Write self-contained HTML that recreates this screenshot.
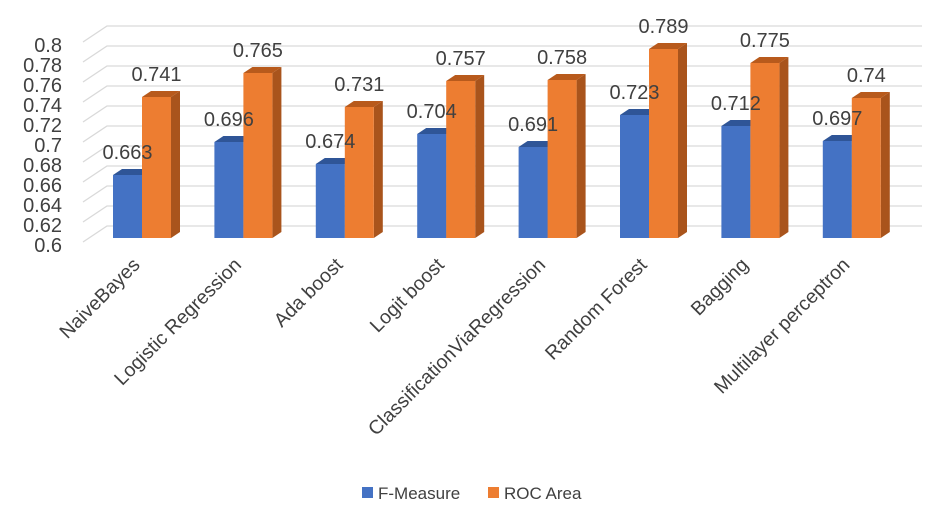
<!DOCTYPE html>
<html><head><meta charset="utf-8"><style>
body{margin:0;background:#fff;}
svg text{font-family:"Liberation Sans",sans-serif;fill:#404040;}
</style></head><body>
<svg id="chart" width="941" height="510" viewBox="0 0 941 510" xmlns="http://www.w3.org/2000/svg">
<g id="grid"></g>
<g id="yticks"></g>
<g id="bars"></g>
<g id="vlabels"></g>
<g id="xlabels"></g>
<g>
<rect x="362" y="487" width="11" height="11" fill="#4472C4"/>
<text x="378" y="499" font-size="17">F-Measure</text>
<rect x="488" y="487" width="11" height="11" fill="#ED7D31"/>
<text x="504" y="499" font-size="17">ROC Area</text>
</g>
</svg>
<script>
const categories=["NaiveBayes","Logistic Regression","Ada boost","Logit boost","ClassificationViaRegression","Random Forest","Bagging","Multilayer perceptron"];
const fMeasure=[0.663,0.696,0.674,0.704,0.691,0.723,0.712,0.697];
const rocArea=[0.741,0.765,0.731,0.757,0.758,0.789,0.775,0.74];
const yTicks=[0.6,0.62,0.64,0.66,0.68,0.7,0.72,0.74,0.76,0.78,0.8];
const yTickLabels=["0.6","0.62","0.64","0.66","0.68","0.7","0.72","0.74","0.76","0.78","0.8"];

const NS="http://www.w3.org/2000/svg";
const yMin=0.6, baseY=238, pxPerUnit=1000;
const y=v=>baseY-(v-yMin)*pxPerUnit;
const x0=113, step=101.4, bw=29, dx=9, dy=-6;
const gx=v=>x0+v*step;
function mk(tag,attrs,parent){const e=document.createElementNS(NS,tag);for(const k in attrs)e.setAttribute(k,attrs[k]);parent.appendChild(e);return e;}
const grid=document.getElementById('grid'),yt=document.getElementById('yticks'),bars=document.getElementById('bars'),vl=document.getElementById('vlabels'),xl=document.getElementById('xlabels');
yTicks.forEach((t,i)=>{
  const yy=y(t);
  const l=mk('polyline',{points:`83,${yy+4} 107,${yy-12} 922,${yy-12}`,fill:'none',stroke:'#d9d9d9','stroke-width':1.3},grid);
  
  
  const tx=mk('text',{x:62,y:yy+14,'text-anchor':'end','font-size':20},yt);
  tx.textContent=yTickLabels[i];
  
  
});
function bar(x,v,front,top,side,name,label){
  const yt0=y(v),yb=baseY;
  const g=mk('g',{},bars);
  
  
  mk('polygon',{points:`${x+bw},${yt0} ${x+bw+dx},${yt0+dy} ${x+bw+dx},${yb+dy} ${x+bw},${yb}`,fill:side},g);
  mk('polygon',{points:`${x},${yt0} ${x+dx},${yt0+dy} ${x+bw+dx},${yt0+dy} ${x+bw},${yt0}`,fill:top},g);
  mk('rect',{x:x,y:yt0,width:bw,height:yb-yt0,fill:front},g);
  const t=mk('text',{x:x+bw/2,y:yt0-16,'text-anchor':'middle','font-size':20},vl);
  t.textContent=label;
  
  
}
categories.forEach((c,i)=>{
  const x=gx(i);
  bar(x,fMeasure[i],'#4472C4','#2F5597','#34589c','bar-f-measure',String(fMeasure[i]));
  bar(x+bw,rocArea[i],'#ED7D31','#B85A1C','#A9541C','bar-roc-area',String(rocArea[i]));
  const cx=x+bw-1, cy=266;
  const t=mk('text',{x:cx,y:cy,'text-anchor':'end','font-size':19.5,transform:`rotate(-45 ${cx} ${cy})`},xl);
  t.textContent=c;
  
  
});
</script>
</body></html>
